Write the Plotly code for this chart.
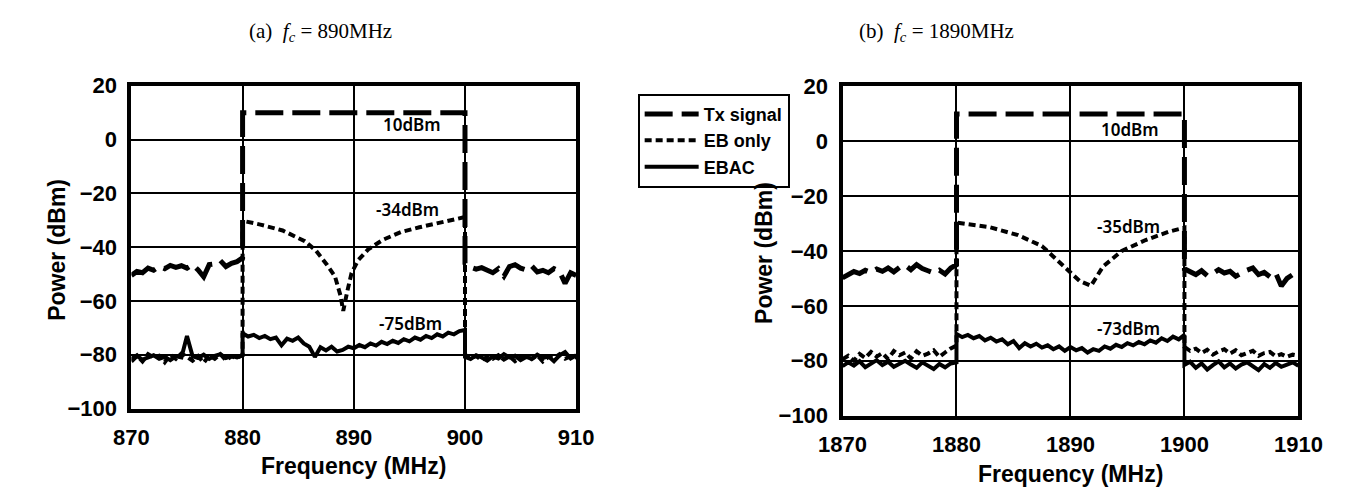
import numpy as np
import plotly.graph_objects as go

W, H = 1367, 493

# ---------------- data: (a) fc = 890 MHz ----------------
freq_lo_a = list(np.linspace(870, 880, 21))
freq_in_a = list(np.linspace(880, 900, 41))
freq_hi_a = list(np.linspace(900, 910, 21))

tx_lo_a = [-50.5, -49.0, -49.5, -47.8, -48.6, -47.2, -48.0, -46.8, -47.5, -46.9, -47.8,
           -46.5, -48.5, -51.0, -46.5, -46.2, -45.0, -47.2, -46.0, -45.4, -44.0]
tx_in_x_a = [880, 900]
tx_in_a = [10, 10]
tx_hi_a = [-46.0, -47.5, -48.2, -47.6, -48.8, -49.5, -48.0, -50.8, -47.2, -46.5, -47.8,
           -48.5, -47.0, -49.2, -48.6, -49.5, -48.0, -49.0, -53.5, -49.5, -50.5]

eb_lo_a = [-81.5, -80.2, -82.5, -79.8, -81.0, -80.4, -82.8, -80.0, -81.5, -79.5, -80.8,
           -82.2, -80.5, -83.0, -80.2, -81.5, -79.8, -82.0, -80.6, -81.2, -80.0]
eb_in_x_a = [880, 881.6, 883.6, 885.6, 886.6, 887.6, 888.3, 888.8, 889.05, 889.4, 889.8,
             890.4, 891.3, 892.6, 894.3, 895.9, 897.6, 899.2, 900]
eb_in_a = [-30.2, -31.6, -33.8, -37.8, -41.3, -46.6, -50.8, -57.9, -63.7, -56.7, -49.6,
           -44.8, -40.8, -37.3, -34.3, -32.6, -31.0, -29.6, -28.8]
eb_hi_a = [-80.0, -81.2, -80.5, -82.0, -80.8, -81.5, -80.2, -81.8, -80.6, -82.4, -81.0,
           -80.4, -81.6, -80.2, -82.5, -80.8, -81.2, -79.8, -81.5, -80.6, -81.0]

ebac_lo_a = [-82.5, -80.5, -81.8, -81.0, -80.2, -81.5, -80.8, -82.0, -80.6, -81.0, -73.0,
             -80.5, -81.2, -80.0, -81.5, -80.4, -79.8, -81.2, -80.5, -81.0, -80.2]
ebac_in_a = [-72.0, -73.2, -72.6, -73.8, -73.0, -74.2, -73.6, -76.5, -74.0, -74.8, -73.6,
             -75.8, -77.0, -80.8, -77.2, -78.4, -77.0, -78.8, -78.2, -77.0, -77.6,
             -76.4, -77.2, -75.8, -76.6, -75.2, -76.0, -74.8, -75.6, -74.2, -75.0,
             -73.6, -74.4, -73.0, -73.8, -72.4, -73.2, -71.8, -72.4, -71.2, -70.8]
ebac_hi_a = [-80.8, -81.6, -80.2, -81.0, -82.2, -80.6, -81.4, -79.8, -81.0, -80.4, -82.0,
             -80.8, -81.5, -80.0, -81.2, -80.6, -82.4, -80.2, -79.0, -81.4, -80.2]

# ---------------- data: (b) fc = 1890 MHz ----------------
freq_lo_b = list(np.linspace(1870, 1880, 21))
freq_in_b = list(np.linspace(1880, 1900, 41))
freq_hi_b = list(np.linspace(1900, 1910, 21))

tx_lo_b = [-49.8, -48.6, -47.5, -48.2, -47.0, -47.8, -46.6, -47.4, -46.2, -47.6, -46.0,
           -45.2, -46.8, -45.0, -46.4, -47.2, -48.0, -47.0, -48.4, -46.2, -45.0]
tx_in_x_b = [1880, 1900]
tx_in_b = [10, 10]
tx_hi_b = [-46.5, -47.8, -48.6, -47.2, -49.0, -48.2, -46.8, -48.0, -47.4, -49.2, -48.0,
           -47.0, -46.2, -48.6, -47.8, -49.4, -48.0, -52.8, -50.0, -48.6, -50.5]

eb_lo_b = [-79.5, -78.2, -80.0, -77.5, -79.0, -76.8, -78.5, -77.2, -79.4, -76.5, -78.0,
           -77.0, -79.2, -76.6, -78.2, -77.4, -76.2, -78.6, -77.0, -75.5, -74.5]
eb_in_x_b = [1880, 1882.9, 1885.4, 1887.5, 1889.5, 1890.8, 1891.8, 1892.85, 1894.5,
             1896.6, 1898.6, 1899.7, 1900]
eb_in_b = [-29.6, -31.3, -34.2, -38.2, -45.7, -50.9, -52.7, -45.7, -40.0, -36.0, -33.0,
           -31.9, -31.5]
eb_hi_b = [-75.0, -76.4, -75.6, -77.2, -76.0, -77.8, -76.6, -75.8, -77.4, -76.2, -78.0,
           -77.0, -76.4, -78.2, -77.2, -76.8, -78.4, -77.6, -78.6, -77.8, -78.2]

ebac_lo_b = [-82.0, -80.6, -81.8, -80.2, -82.4, -81.0, -79.8, -81.6, -80.4, -82.2, -81.0,
             -80.0, -81.4, -82.6, -80.6, -81.8, -83.0, -81.2, -82.4, -81.0, -80.6]
ebac_in_b = [-70.2, -71.4, -70.6, -71.8, -71.0, -72.6, -71.6, -73.0, -72.2, -74.0, -72.8,
             -75.4, -73.6, -74.8, -73.8, -75.2, -74.4, -75.8, -74.8, -76.4, -75.0,
             -76.2, -75.4, -77.0, -75.8, -76.4, -74.8, -75.6, -74.2, -75.0, -73.6,
             -74.4, -73.2, -74.0, -72.6, -73.4, -71.8, -72.8, -71.2, -72.2, -70.6]
ebac_hi_b = [-81.5, -80.4, -82.6, -81.0, -83.2, -81.6, -80.2, -82.4, -81.0, -82.8, -81.4,
             -80.6, -82.0, -83.4, -81.2, -82.6, -80.8, -82.2, -81.4, -80.6, -81.8]

series_names = ["Tx signal", "EB only", "EBAC"]
x_ticks_a = [870, 880, 890, 900, 910]
x_ticks_b = [1870, 1880, 1890, 1900, 1910]
y_ticks = [-100, -80, -60, -40, -20, 0, 20]

# ---------------- figure ----------------
fig = go.Figure()

styles = {
    "Tx signal": dict(color="black", width=5, dash="28px,9px"),
    "EB only": dict(color="black", width=4, dash="7px,4px"),
    "EBAC": dict(color="black", width=4),
}

def add_panel(xa, ya, fl, fi, fh, tx, eb, ebac, show):
    data = {
        "Tx signal": (fl + tx[1] + fh, tx[0] + tx[2] + tx[3]),
        "EB only": (fl + eb[1] + fh, eb[0] + eb[2] + eb[3]),
        "EBAC": (fl + fi + fh, ebac[0] + ebac[1] + ebac[2]),
    }
    for name in series_names:
        xs, ys = data[name]
        fig.add_trace(go.Scatter(x=xs, y=ys, mode="lines", name=name, line=styles[name],
                                 xaxis=xa, yaxis=ya, showlegend=show, legendgroup=name))

add_panel("x", "y", freq_lo_a, freq_in_a, freq_hi_a,
          (tx_lo_a, tx_in_x_a, tx_in_a, tx_hi_a),
          (eb_lo_a, eb_in_x_a, eb_in_a, eb_hi_a),
          (ebac_lo_a, ebac_in_a, ebac_hi_a), True)
add_panel("x2", "y2", freq_lo_b, freq_in_b, freq_hi_b,
          (tx_lo_b, tx_in_x_b, tx_in_b, tx_hi_b),
          (eb_lo_b, eb_in_x_b, eb_in_b, eb_hi_b),
          (ebac_lo_b, ebac_in_b, ebac_hi_b), False)

tickfont = dict(family="Liberation Sans, Arial, sans-serif", size=22, color="black", weight=700)
common = dict(showgrid=True, gridcolor="black", gridwidth=1.5, showline=True, linecolor="black",
              linewidth=4, mirror=True, ticks="", zeroline=False, tickfont=tickfont)

def px(x):
    return x / W

def py(y):
    return 1 - y / H

fig.update_layout(
    width=W, height=H, margin=dict(l=0, r=0, t=0, b=0),
    paper_bgcolor="white", plot_bgcolor="white",
    xaxis=dict(domain=[px(103), px(564)], range=[870, 910], tickvals=x_ticks_a,
               anchor="y", ticklabelstandoff=6, **common),
    yaxis=dict(domain=[py(409.3), py(69.3)], range=[-100, 20], tickvals=y_ticks,
               anchor="x", ticklabelstandoff=6, **common),
    xaxis2=dict(domain=[px(840), px(1312.5)], range=[1870, 1910], tickvals=x_ticks_b,
                anchor="y2", ticklabelstandoff=6, **common),
    yaxis2=dict(domain=[py(416.7), py(70)], range=[-100, 20], tickvals=y_ticks,
                anchor="x2", ticklabelstandoff=6, **common),
    legend=dict(x=px(627.7), y=py(77.7), xanchor="left", yanchor="top",
                bgcolor="white", bordercolor="black", borderwidth=2,
                font=dict(family="Liberation Sans, Arial, sans-serif", size=18, color="black", weight=700),
                itemwidth=54, tracegroupgap=0),
    showlegend=True,
)

lab_font = dict(family="Liberation Sans, Arial, sans-serif", size=23, color="black", weight=700)
title_font = dict(family="Liberation Serif, Times New Roman, serif", size=21, color="black")
val_font = dict(family="Noto Sans, Open Sans, sans-serif", size=17, color="black", weight=600)

ann = [
    dict(text="(a)&nbsp;&nbsp;<i>f<sub>c</sub></i>&nbsp;=&nbsp;890MHz", x=px(299), y=py(13), font=title_font),
    dict(text="(b)&nbsp;&nbsp;<i>f<sub>c</sub></i>&nbsp;=&nbsp;1890MHz", x=px(937), y=py(13), font=title_font),
    dict(text="Power (dBm)", x=px(26), y=py(242), font=lab_font, textangle=-90),
    dict(text="Power (dBm)", x=px(758), y=py(245), font=lab_font, textangle=-90),
    dict(text="Frequency (MHz)", x=px(333.5), y=py(470), font=lab_font),
    dict(text="Frequency (MHz)", x=px(1076), y=py(478), font=lab_font),
]
for a in ann:
    fig.add_annotation(xref="paper", yref="paper", showarrow=False,
                       xanchor="center", yanchor="middle", **a)

vals = [
    ("x", "y", 895.2, 5.6, "10dBm"),
    ("x", "y", 894.8, -26.1, "-34dBm"),
    ("x", "y", 895.1, -68.4, "-75dBm"),
    ("x2", "y2", 1895.2, 4.4, "10dBm"),
    ("x2", "y2", 1895.1, -30.9, "-35dBm"),
    ("x2", "y2", 1895.1, -68.2, "-73dBm"),
]
for xr, yr, xv, yv, t in vals:
    fig.add_annotation(xref=xr, yref=yr, x=xv, y=yv, text=t, showarrow=False,
                       font=val_font, xanchor="center", yanchor="middle")

fig.write_html("out.html")
